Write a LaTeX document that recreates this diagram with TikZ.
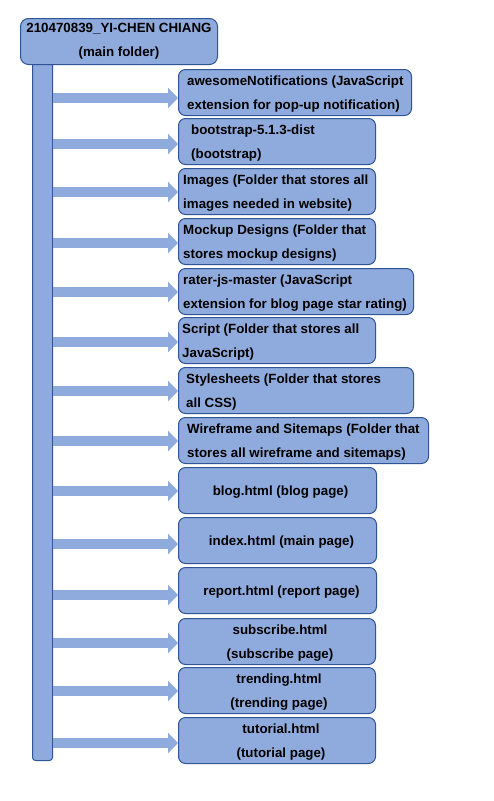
\documentclass[tikz,border=0pt]{standalone}
\usepackage{fontspec}
\setmainfont{Liberation Sans}
\usetikzlibrary{calc,arrows.meta}
\definecolor{folderfill}{RGB}{143,170,220}
\definecolor{folderline}{RGB}{47,85,151}

\tikzset{
  folder/.style={draw=folderline,fill=folderfill,line width=1pt,rounded corners=7pt,
    anchor=north west,inner sep=0pt,minimum height=46pt},
  leftname/.style={anchor=west,align=left,inner sep=0pt,yshift=-2pt,
    font=\fontsize{13.33}{24}\selectfont\bfseries},
  midname/.style={anchor=center,align=center,inner sep=0pt,yshift=-2pt,
    font=\fontsize{13.33}{24}\selectfont\bfseries},
  branch/.style={draw=folderfill,line width=10pt,
    -{Triangle[length=10pt,width=20pt]}}
}

\begin{document}
\begin{tikzpicture}[x=1pt,y=-1pt]
			\useasboundingbox (0,0) rectangle (493,801);
			% trunk and main folder
			\node[folder,rounded corners=3pt,minimum width=20pt,minimum height=700pt](trunk) at(32,60){};
			\node[folder,rounded corners=8pt,minimum width=197pt,align=center,
			  font=\fontsize{13.33}{24}\selectfont\bfseries](root) at(20,18){210470839\_YI-CHEN CHIANG\\(main folder)};
			
			% sub folders
			\node[folder,minimum width=233pt](awesome) at(178,69){};
			\node[leftname](awesomeT) at($(awesome.west)+(9,0)$){awesomeNotifications (JavaScript\\extension for pop-up notification)};
			\node[folder,minimum width=197pt](bootstrap) at(178,118){};
			\node[leftname](bootstrapT) at($(bootstrap.west)+(13,0)$){bootstrap-5.1.3-dist\\(bootstrap)};
			\node[folder,minimum width=197pt](images) at(178,168){};
			\node[leftname](imagesT) at($(images.west)+(5,0)$){Images (Folder that stores all\\images needed in website)};
			\node[folder,minimum width=197pt](mockup) at(178,218){};
			\node[leftname](mockupT) at($(mockup.west)+(5,0)$){Mockup Designs (Folder that\\stores mockup designs)};
			\node[folder,minimum width=235pt](rater) at(178,268){};
			\node[leftname](raterT) at($(rater.west)+(5,0)$){rater-js-master (JavaScript\\extension for blog page star rating)};
			\node[folder,minimum width=197pt](script) at(178,317){};
			\node[leftname](scriptT) at($(script.west)+(4,0)$){Script (Folder that stores all\\JavaScript)};
			\node[folder,minimum width=235pt](styles) at(178,367){};
			\node[leftname](stylesT) at($(styles.west)+(8,0)$){Stylesheets (Folder that stores\\all CSS)};
			\node[folder,minimum width=250pt](wireframe) at(178,417){};
			\node[leftname](wireframeT) at($(wireframe.west)+(9,0)$){Wireframe and Sitemaps (Folder that\\stores all wireframe and sitemaps)};
			
			% html files
			\node[folder,minimum width=198pt](blog) at(178,467){};
			\node[midname](blogT) at($(blog.center)+(3,0)$){blog.html (blog page)};
			\node[folder,minimum width=198pt](index) at(178,517){};
			\node[midname](indexT) at($(index.center)+(4,0)$){index.html (main page)};
			\node[folder,minimum width=198pt](report) at(178,567){};
			\node[midname](reportT) at($(report.center)+(4,0)$){report.html (report page)};
			\node[folder,minimum width=197pt](subscribe) at(178,618){};
			\node[midname](subscribeT) at($(subscribe.center)+(3,0)$){subscribe.html\\(subscribe page)};
			\node[folder,minimum width=197pt](trending) at(178,667){};
			\node[midname](trendingT) at($(trending.center)+(2,0)$){trending.html\\(trending page)};
			\node[folder,minimum width=197pt](tutorial) at(178,717){};
			\node[midname](tutorialT) at($(tutorial.center)+(4,0)$){tutorial.html\\(tutorial page)};
			
			% branches
			\draw[branch](trunk.east |- 0,98) -- (awesome.west |- 0,98);
			\draw[branch](trunk.east |- 0,144) -- (bootstrap.west |- 0,144);
			\draw[branch](trunk.east |- 0,192) -- (images.west |- 0,192);
			\draw[branch](trunk.east |- 0,243) -- (mockup.west |- 0,243);
			\draw[branch](trunk.east |- 0,292) -- (rater.west |- 0,292);
			\draw[branch](trunk.east |- 0,342) -- (script.west |- 0,342);
			\draw[branch](trunk.east |- 0,391) -- (styles.west |- 0,391);
			\draw[branch](trunk.east |- 0,441) -- (wireframe.west |- 0,441);
			\draw[branch](trunk.east |- 0,491) -- (blog.west |- 0,491);
			\draw[branch](trunk.east |- 0,544) -- (index.west |- 0,544);
			\draw[branch](trunk.east |- 0,595) -- (report.west |- 0,595);
			\draw[branch](trunk.east |- 0,643) -- (subscribe.west |- 0,643);
			\draw[branch](trunk.east |- 0,691) -- (trending.west |- 0,691);
			\draw[branch](trunk.east |- 0,743) -- (tutorial.west |- 0,743);
		\end{tikzpicture}
\end{document}
